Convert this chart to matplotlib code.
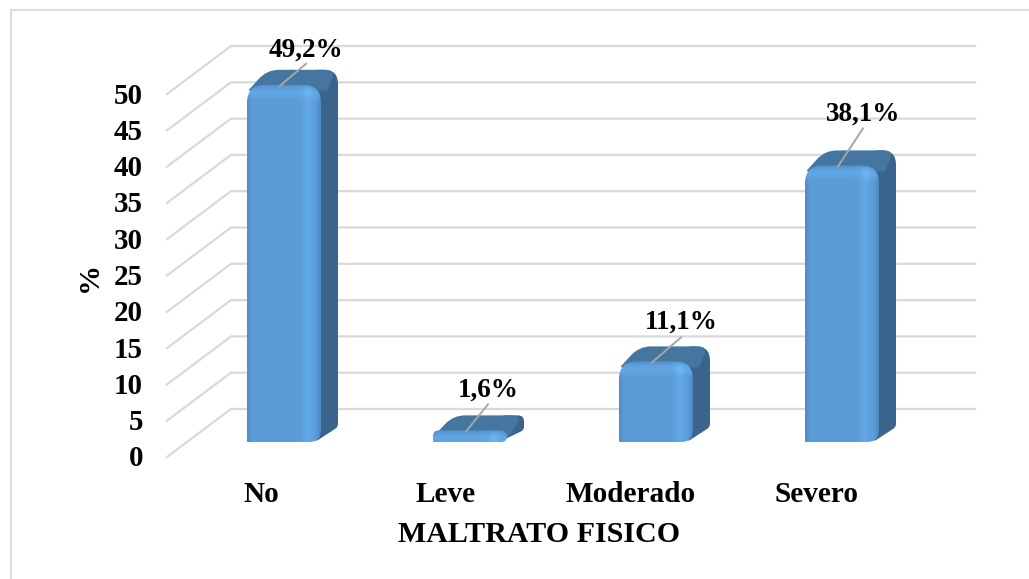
import numpy as np
import matplotlib
matplotlib.use("Agg")
import matplotlib.pyplot as plt
from matplotlib.path import Path
from matplotlib.patches import PathPatch
from matplotlib.lines import Line2D

categories = ["No", "Leve", "Moderado", "Severo"]
values = [49.2, 1.6, 11.1, 38.1]
value_labels = ["49,2%", "1,6%", "11,1%", "38,1%"]
y_ticks = list(range(0, 55, 5))
x_title = "MALTRATO FISICO"
y_title = "%"

# manual label layout, in pixels relative to the bar top centre
leader_end = [(22, 21), (18, 26), (25, 24), (21, 37)]
label_gap = [14, 14, 15, 14]

W, H = 1029, 579
FONT = "Liberation Serif"
GRID = "#D9D9D9"
fig = plt.figure(figsize=(W / 100, H / 100), dpi=100, facecolor="white")
L, R, T, B = 167, 911, 94, 457
ax = fig.add_axes([L / W, (H - B) / H, (R - L) / W, (B - T) / H])
ax.set_axis_off()
SX = (R - L) / 4
SY = (B - T) / 50


def dxp(p):
    return p / SX


def dyp(p):
    return p / SY


# frame
fig.add_artist(Line2D([11 / W, 11 / W, 1], [0, 1 - 10 / H, 1 - 10 / H], color="#DEDEDE", lw=1.6))

# floor / wall grid
for t in y_ticks:
    ax.plot([0, dxp(64), dxp(808)], [t, t + dyp(48), t + dyp(48)], color=GRID, lw=1.6,
            clip_on=False, zorder=1, solid_joinstyle="miter")
    ax.text(dxp(-24), t + dyp(1), str(t), ha="right", va="center_baseline", family=FONT, weight="bold", fontsize=20.9,
            color="black", clip_on=False)


def rounded(points, radii):
    """Rounded polygon path; points in pixel-like units."""
    pts = [np.array(p, float) for p in points]
    n = len(pts)
    verts, codes = [], []
    for i in range(n):
        p, a, b = pts[i], pts[i - 1], pts[(i + 1) % n]
        r = radii[i]
        u = (a - p) / max(np.linalg.norm(a - p), 1e-6)
        v = (b - p) / max(np.linalg.norm(b - p), 1e-6)
        s, e = p + u * r, p + v * r
        verts.append(s)
        codes.append(Path.MOVETO if i == 0 else Path.LINETO)
        verts += [p, e]
        codes += [Path.CURVE3, Path.CURVE3]
    verts.append(verts[0])
    codes.append(Path.CLOSEPOLY)
    out = np.array(verts)
    out[:, 0] = out[:, 0] / SX
    out[:, 1] = out[:, 1] / SY
    return Path(out, codes)


def front_image(w, h):
    xs = np.arange(w) + 0.5
    ys = np.arange(h) + 0.5
    base = np.array([0x5B, 0x9B, 0xD6], float)
    light = np.array([0x62, 0xA8, 0xE6], float)
    dark = np.array([0x4A, 0x84, 0xBC], float)
    spot = np.array([0x72, 0xB8, 0xF2], float)
    img = np.tile(base, (h, w, 1))
    a = np.exp(-((xs - (w - 13)) / 6.0) ** 2)[None, :, None]
    img = img * (1 - a) + light * a
    e = np.clip(1 - xs / 5.0, 0, 1)[None, :, None] * 0.7 + np.clip((xs - (w - 5)) / 5.0, 0, 1)[None, :, None] * 0.8
    img = img * (1 - e) + dark * e
    t = np.exp(-((ys - 9) / 5.0) ** 2)[:, None, None] * 0.9
    img = img * (1 - t) + light * t
    X, Y = np.meshgrid(xs, ys)
    s = (np.exp(-(((X - (w - 13)) / 4.5) ** 2 + ((Y - 9) / 4.5) ** 2)) * 0.9)[:, :, None]
    img = img * (1 - s) + spot * s
    d = np.clip(1 - ys / 4.0, 0, 1)[:, None, None] * 0.6
    img = img * (1 - d) + dark * d
    return np.clip(img, 0, 255).astype(np.uint8)


BW, DX, DY, LIFT, SHIFT = 74, 17, 15, 15, 24
for i, (cat, v, lab) in enumerate(zip(categories, values, value_labels)):
    cx = (i + 0.5) * SX + SHIFT
    x0, x1 = cx - BW / 2, cx + BW / 2
    y0 = LIFT
    y1 = y0 + v * SY
    h = y1 - y0
    r = min(18, h / 2)
    small = h < 20
    if small:
        # flat bar: one rounded slab, with the side merged into the top
        side = rounded([(x1 - 8, y0), (x1 + DX, y0 + DY - 3), (x1 + DX, y1 + DY), (x1 - 4, y1 + DY)], [4, 3, 6, 1])
    else:
        side = rounded([(x1 - 6, y0), (x1 + DX, y0 + DY), (x1 + DX, y1 + DY), (x1 - 4, y1 + DY)], [4, 3, 14, 1])
    ax.add_patch(PathPatch(side, fc="#3A648C", ec="none", zorder=3, clip_on=False))
    low = min(6, h / 2)
    right = x1 + (2 if small else 6)
    top = rounded([(x0 + 1, y1 - low), (x0 + DX + 3, y1 + DY), (x1 + DX - 2, y1 + DY), (right, y1 - low)],
                  [2, 12, 10, 2])
    ax.add_patch(PathPatch(top, fc="#44769F", ec="none", zorder=4, clip_on=False))
    fr = rounded([(x0, y0), (x0, y1), (x1, y1), (x1, y0)], [1, r, r, min(12, h / 2)])
    clip = PathPatch(fr, fc="none", ec="none", transform=ax.transData)
    ax.add_patch(clip)
    im = ax.imshow(front_image(BW, max(int(round(h)), 2)), extent=[x0 / SX, x1 / SX, y0 / SY, y1 / SY],
                   aspect="auto", origin="upper", zorder=5, interpolation="bilinear")
    im.set_clip_on(True)
    im.set_clip_box(fig.bbox)
    im.set_clip_path(clip)
    # leader
    lx, ly = leader_end[i]
    ax.plot([(cx - 4) / SX, (cx + lx) / SX], [(y1 - 1) / SY, (y1 + ly) / SY], color="#A6A6A6", lw=1.4, zorder=6,
            clip_on=False)
    ax.text((cx + lx) / SX, (y1 + ly + label_gap[i]) / SY, lab, ha="center", va="center", family=FONT, weight="bold",
            fontsize=19.5, color="black", zorder=7, clip_on=False)
    ax.text((94 + 185 * i) / SX, dyp(-38), cat, ha="center", va="center", family=FONT, weight="bold", fontsize=21.1,
            color="black", clip_on=False)

ax.set_xlim(0, 4)
ax.set_ylim(0, 50)
fig.text(539 / W, 1 - 534 / H, x_title, ha="center", va="center", family=FONT, weight="bold", fontsize=21.6)
fig.text(89 / W, 1 - 277 / H, y_title, ha="center", va="center", rotation=90, family=FONT, weight="bold", fontsize=21.6)
fig.savefig("out.png", dpi=100)
